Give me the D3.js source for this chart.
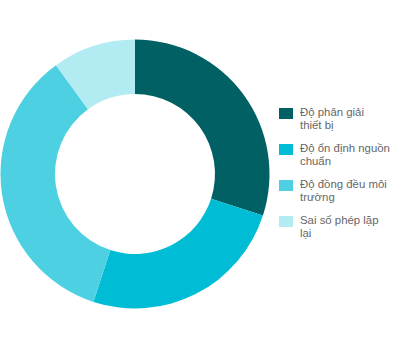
<!DOCTYPE html>
<html><head><meta charset="utf-8">
<script src="https://cdn.jsdelivr.net/npm/d3@7"></script>
<style>body{margin:0;background:#fff;}svg{display:block;}</style>
</head><body>
<svg id="c" width="397" height="350"></svg>
<script>
const categories = [["Độ phân giải", "thiết bị"], ["Độ ổn định nguồn", "chuẩn"], ["Độ đồng đều môi", "trường"], ["Sai số phép lặp", "lại"]];
const values = [30, 25, 35, 10];
const colors = ["#006064", "#00BCD4", "#4DD0E1", "#B2EBF2"];

const svg = d3.select("#c");
const cx = 135, cy = 174, R = 134.5, r = 80;
const pie = d3.pie().sort(null).value(d => d)(values);
const arc = d3.arc().innerRadius(r).outerRadius(R);
const g = svg.append("g").attr("transform", `translate(${cx},${cy})`);
g.selectAll("path").data(pie).enter().append("path")
  .attr("d", arc).attr("fill", (d, i) => colors[i]);

const lg = svg.append("g");
categories.forEach((c, i) => {
  const y0 = 108 + i * 36;
  lg.append("rect").attr("x", 279).attr("y", y0).attr("width", 14).attr("height", 11).attr("fill", colors[i]);
  const t = lg.append("text").attr("x", 300).attr("y", y0 + 8)
    .attr("font-family", "Liberation Sans, Arial, sans-serif").attr("font-size", 11.4).attr("fill", "#666");
  c.forEach((l, k) => {
    t.append("tspan").attr("x", 300).attr("dy", k === 0 ? 0 : 13).text(l);
  });
});
</script>
</body></html>
